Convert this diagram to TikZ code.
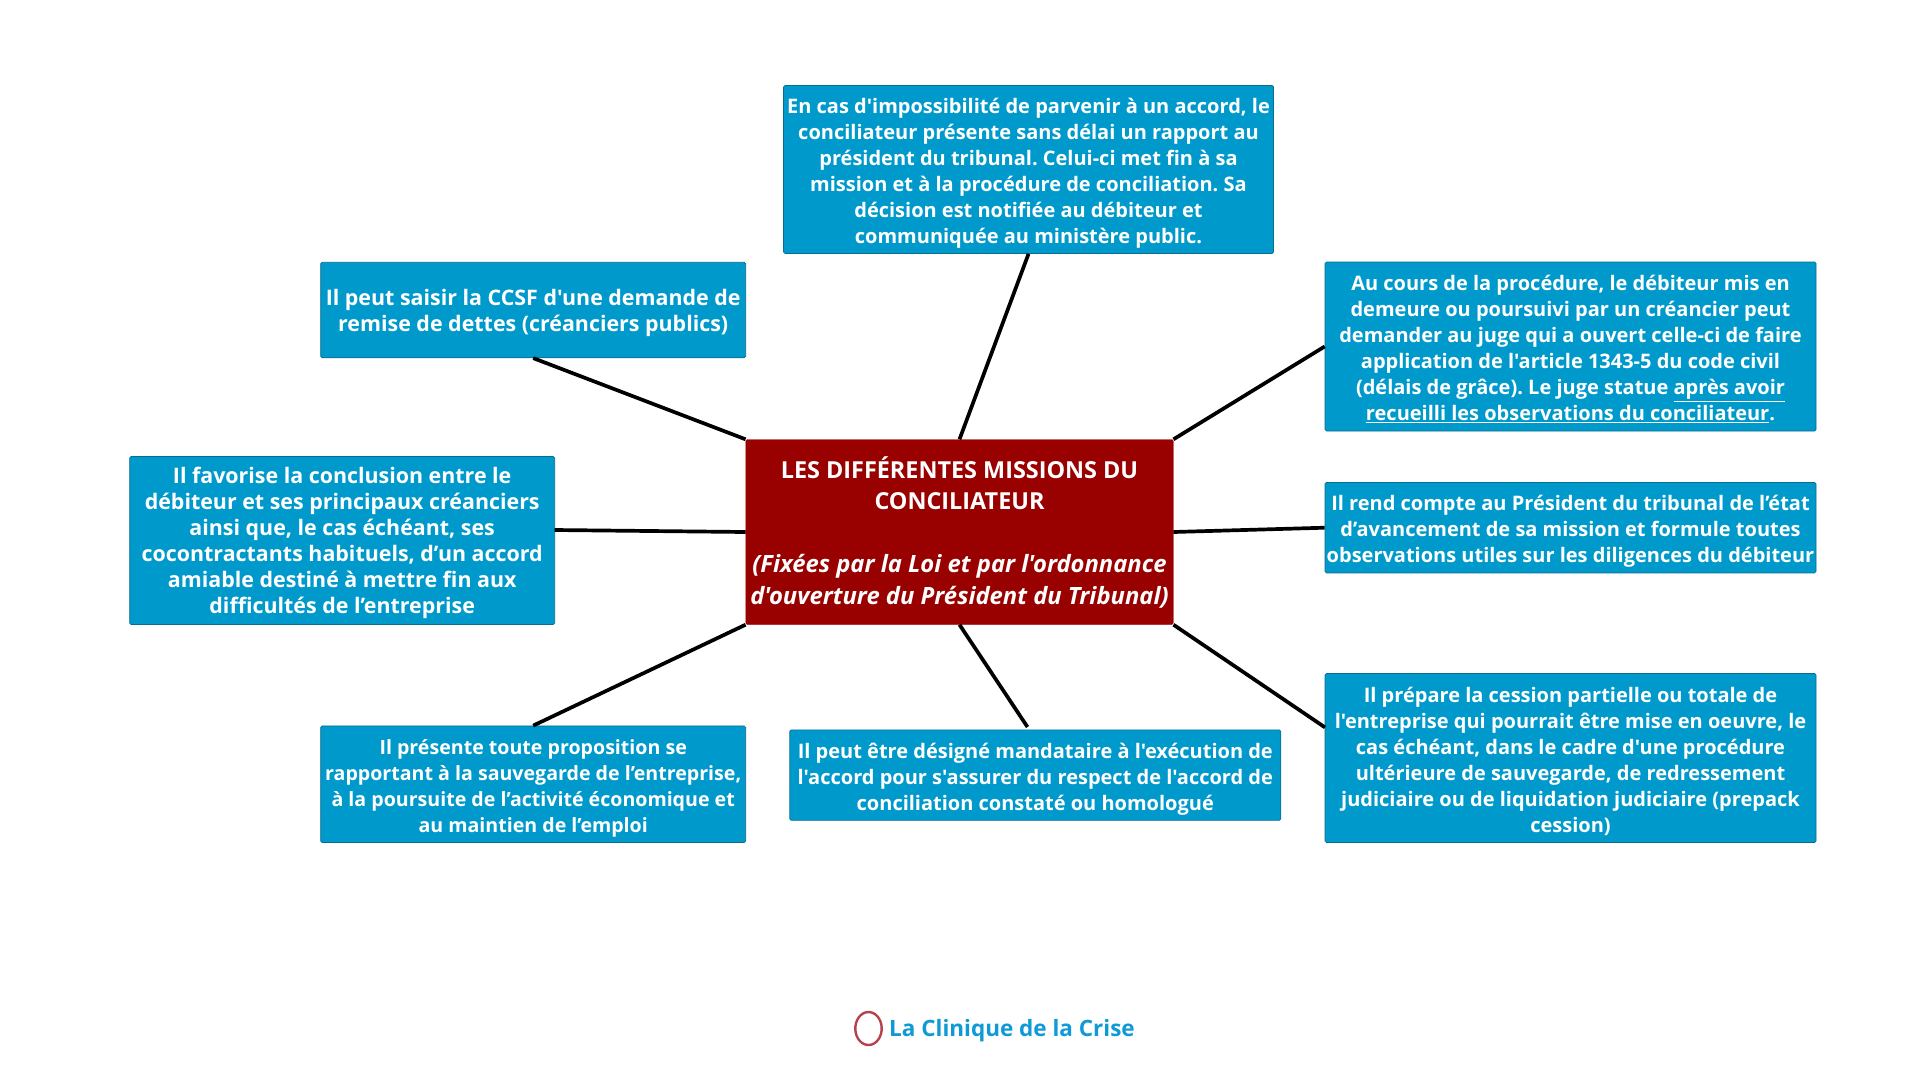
\documentclass[tikz,border=0pt]{standalone}
\usepackage{fontspec}
\newfontfamily\basefont{Open Sans}
\newcommand\topstrut[1][22.5]{\rule{0pt}{#1pt}}
\begin{document}
\begin{tikzpicture}[x=1pt,y=-1pt,
  box/.style={draw=boxedge,line width=0.7pt,fill=boxblue,rounded corners=1.5pt,text=white,align=center,inner sep=0pt,font=\basefont\frenchspacing\bfseries\fontsize{20}{26}\selectfont},
  bigbox/.style={box,font=\basefont\frenchspacing\bfseries\fontsize{21.4}{26}\selectfont},
  smallbox/.style={box,font=\basefont\frenchspacing\bfseries\fontsize{19.6}{26}\selectfont},
  hub/.style={draw=hubred,fill=hubred,rounded corners=1.5pt,text=white,align=center,inner sep=0pt,font=\basefont\frenchspacing\bfseries\fontsize{23.4}{31.5}\selectfont},
  link/.style={draw=black,line width=3.7pt}]
\definecolor{boxblue}{HTML}{0099CC}
\definecolor{boxedge}{HTML}{0A6C8F}
\definecolor{hubred}{HTML}{990000}
\definecolor{brandblue}{HTML}{0F9AD6}
\definecolor{ringred}{HTML}{B5434F}
\useasboundingbox (0,0) rectangle (1920,1080);
\fill[white] (0,0) rectangle (1920,1080);
\node[hub,minimum width=427.5pt,minimum height=185pt] (c) at (959.5,532) {LES DIFFÉRENTES MISSIONS DU\\CONCILIATEUR\\[31.5pt]{\fontsize{23.8}{31.5}\selectfont\textit{(Fixées par la Loi et par l'ordonnance}}\\{\fontsize{23.8}{31.5}\selectfont\textit{d'ouverture du Président du Tribunal)}}};
\node[box,minimum width=490pt,minimum height=168pt] (top) at (1028.5,169.5) {\topstrut En cas d'impossibilité de parvenir à un accord, le\\conciliateur présente sans délai un rapport au\\président du tribunal. Celui-ci met fin à sa\\mission et à la procédure de conciliation. Sa\\décision est notifiée au débiteur et\\communiquée au ministère public.};
\node[bigbox,minimum width=425pt,minimum height=95.5pt] (tl) at (533.2,310) {\topstrut Il peut saisir la CCSF d'une demande de\\remise de dettes (créanciers publics)};
\node[bigbox,minimum width=425pt,minimum height=168pt] (lf) at (342.2,540.5) {\topstrut[20.5]Il favorise la conclusion entre le\\débiteur et ses principaux créanciers\\ainsi que, le cas échéant, ses\\cocontractants habituels, d’un accord\\amiable destiné à mettre fin aux\\difficultés de l’entreprise};
\node[smallbox,minimum width=425pt,minimum height=116.5pt] (bl) at (533.2,784.2) {\topstrut Il présente toute proposition se\\rapportant à la sauvegarde de l’entreprise,\\à la poursuite de l’activité économique et\\au maintien de l’emploi};
\node[box,minimum width=491pt,minimum height=90.5pt] (bm) at (1035.3,775.1) {\topstrut[24.5]Il peut être désigné mandataire à l'exécution de\\l'accord pour s'assurer du respect de l'accord de\\conciliation constaté ou homologué};
\node[box,minimum width=491pt,minimum height=169pt] (br) at (1570.5,758) {\topstrut Il prépare la cession partielle ou totale de\\l'entreprise qui pourrait être mise en oeuvre, le\\cas échéant, dans le cadre d'une procédure\\ultérieure de sauvegarde, de redressement\\judiciaire ou de liquidation judiciaire (prepack\\cession)};
\node[box,minimum width=491pt,minimum height=90.5pt] (rt) at (1570.5,527.7) {\topstrut Il rend compte au Président du tribunal de l’état\\d’avancement de sa mission et formule toutes\\observations utiles sur les diligences du débiteur};
\node[box,minimum width=491pt,minimum height=169pt] (tr) at (1570.5,346.5) {\topstrut[20.5]Au cours de la procédure, le débiteur mis en\\demeure ou poursuivi par un créancier peut\\demander au juge qui a ouvert celle-ci de faire\\application de l'article 1343-5 du code civil\\(délais de grâce). Le juge statue \underline{après avoir}\\\underline{recueilli les observations du conciliateur}.};
\coordinate (bmin) at (1027.5,727);
\coordinate (lfout) at (554.7,530);
\coordinate (brin) at (1325,727.4);
\draw[link] (top.south) -- (c.north);
\draw[link] (tr.west) -- (c.north east);
\draw[link] (rt.west) -- (c.east);
\draw[link] (brin) -- (c.south east);
\draw[link] (bmin) -- (c.south);
\draw[link] (bl.north) -- (c.south west);
\draw[link] (lfout) -- (c.west);
\draw[link] (tl.south) -- (c.north west);
\node[draw=ringred,line width=2.4pt,circle,minimum size=0pt,inner sep=0pt,xscale=0.8,minimum width=33pt,rotate=-8] (ring) at (868.5,1028.5) {};
\node[anchor=west,inner sep=0pt,text=brandblue,font=\basefont\bfseries\fontsize{22.5}{26}\selectfont] (brand) at (889,1031) {La Clinique de la Crise};
\end{tikzpicture}
\end{document}
